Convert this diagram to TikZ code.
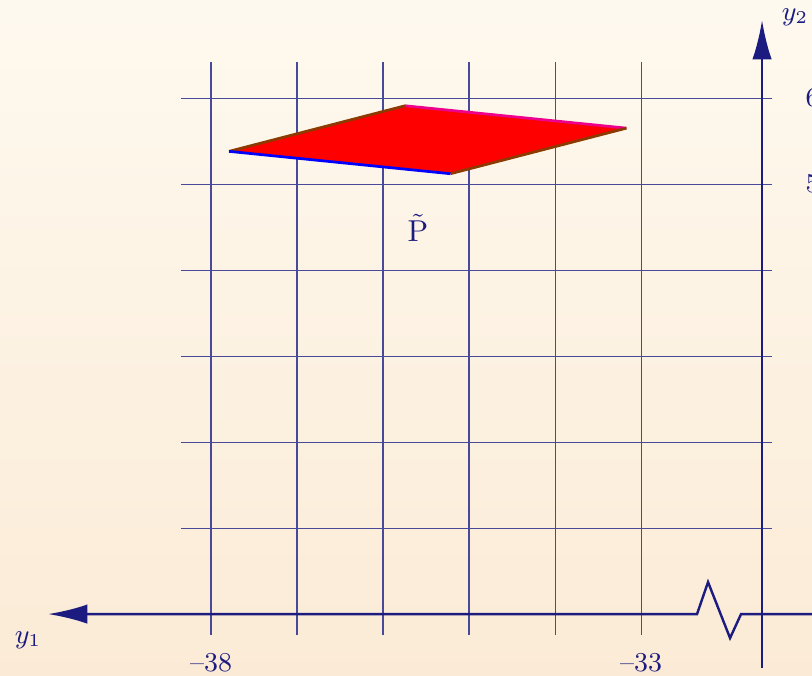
\documentclass[tikz,border=0pt]{standalone}
\usetikzlibrary{arrows.meta}
\definecolor{axisblue}{HTML}{1C1C80}
\definecolor{paperTop}{HTML}{FEF9EF}
\definecolor{paperBot}{HTML}{FBEBD6}
\definecolor{edgebrown}{HTML}{8B3A00}
\begin{document}
\begin{tikzpicture}[>={Latex[length=13pt,width=6.4pt]},
    font=\fontsize{9}{11}\selectfont,
    gridline/.style={axisblue!80, line width=0.35pt},
    axisline/.style={axisblue, line width=0.8pt},
    edge/.style={line width=0.9pt}]
    % background
    \shade[top color=paperTop, bottom color=paperBot] (-2.4535,-0.709) rectangle (6.988,7.140);
    \useasboundingbox (-2.4535,-0.709) rectangle (6.988,7.140);

    % grid
    \foreach \y in {1,...,6}
        \draw[gridline] (-0.349,\y) -- (6.523,\y);
    \foreach \x in {0,...,5}
        \draw[gridline] (\x,-0.244) -- (\x,6.419);

    % parallelogram
    \coordinate (pL) at (0.21,5.38);
    \coordinate (pT) at (2.256,5.91);
    \coordinate (pR) at (4.83,5.65);
    \coordinate (pB) at (2.784,5.12);
    \fill[red] (pL) -- (pT) -- (pR) -- (pB) -- cycle;
    \draw[edge, edgebrown] (pL) -- (pT);
    \draw[edge, magenta] (pT) -- (pR);
    \draw[edge, edgebrown] (pR) -- (pB);
    \draw[edge, blue] (pB) -- (pL);
    \node[text=axisblue, font=\fontsize{10}{12}\selectfont] (lblP) at (2.407,4.488) {$\tilde{\mathrm{P}}$};

    % axes
    \coordinate (xEnd) at (6.988,0);
    \coordinate (xTip) at (-1.895,0);
    \coordinate (zz1) at (6.163,0);
    \coordinate (zz2) at (6.035,-0.279);
    \coordinate (zz3) at (5.779,0.372);
    \coordinate (zz4) at (5.651,0);
    \coordinate (yFoot) at (6.407,-0.628);
    \coordinate (yTip) at (6.407,6.907);
    \draw[axisline, ->] (xEnd) -- (zz1) -- (zz2) -- (zz3) -- (zz4) -- (xTip);
    \draw[axisline, ->] (yFoot) -- (yTip);

    % labels
    \node[text=axisblue] (lblY1) at (-2.128,-0.302) {$y_1$};
    \node[text=axisblue] (lblY2) at (6.791,6.942) {$y_2$};
    \node[text=axisblue] (tick38) at (0,-0.57) {--38};
    \node[text=axisblue] (tick33) at (5,-0.57) {--33};
    \node[text=axisblue, anchor=west, inner sep=0pt] (tick6) at (6.907,6) {6};
    \node[text=axisblue, anchor=west, inner sep=0pt] (tick5) at (6.907,5) {5};
\end{tikzpicture}
\end{document}
